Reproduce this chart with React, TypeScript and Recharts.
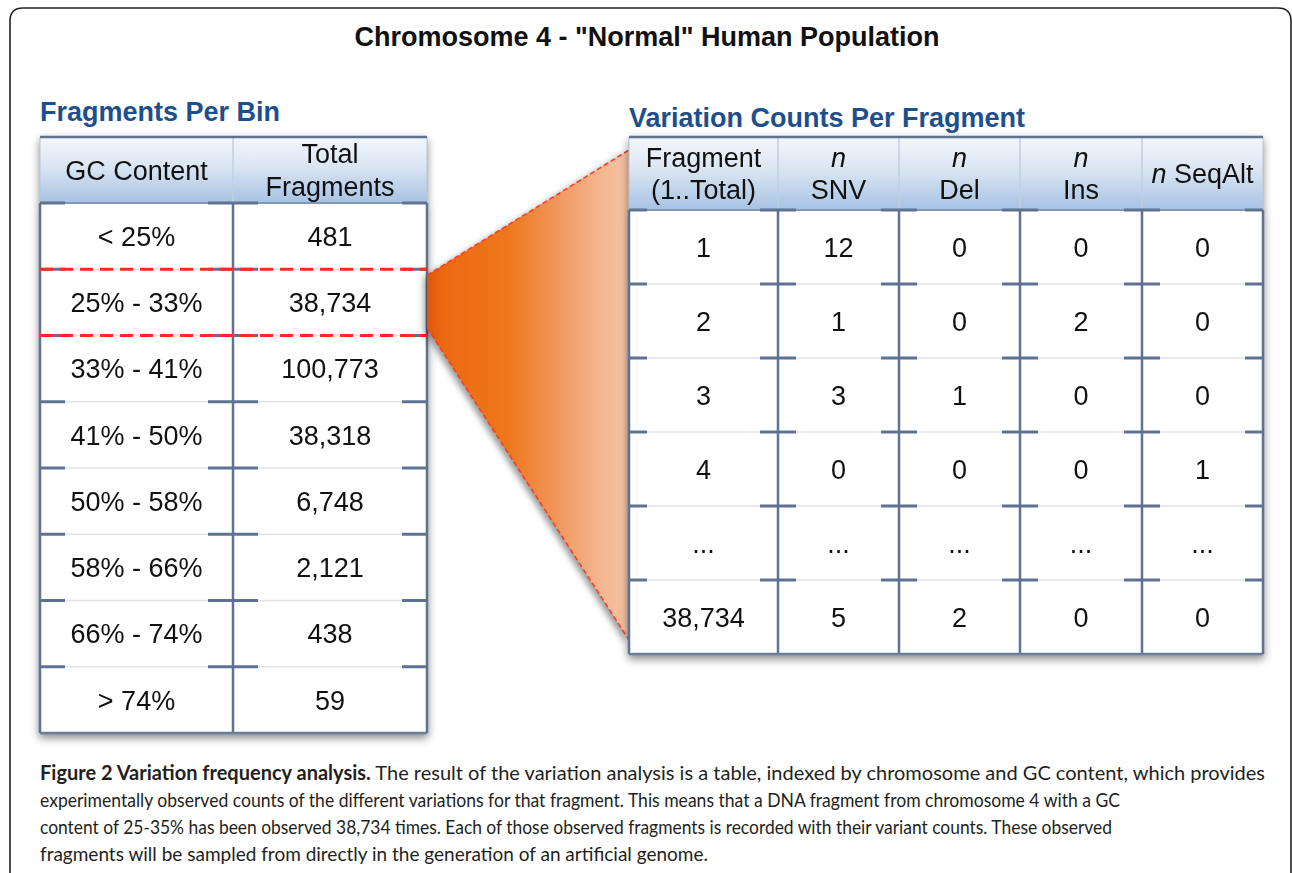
import { ComposedChart, Scatter, Area, Line, XAxis, YAxis, ReferenceArea, ReferenceLine } from 'recharts'

// Fragments per bin
const gcBins = ['< 25%', '25% - 33%', '33% - 41%', '41% - 50%', '50% - 58%', '58% - 66%', '66% - 74%', '> 74%']
const totalFragments = [481, 38734, 100773, 38318, 6748, 2121, 438, 59]
const highlightedBin = '25% - 33%'
const binHeaders = [['GC Content'], ['Total', 'Fragments']]

// Variation counts per fragment (null = "...")
const fragmentIds = [1, 2, 3, 4, null, 38734]
const snvCounts = [12, 1, 3, 0, null, 5]
const delCounts = [0, 0, 1, 0, null, 2]
const insCounts = [0, 2, 0, 0, null, 0]
const seqAltCounts = [0, 0, 0, 1, null, 0]
const fragmentHeaders = [['Fragment', '(1..Total)'], ['n', 'SNV'], ['n', 'Del'], ['n', 'Ins'], ['n SeqAlt']]

const FONT = '"Liberation Sans", Arial, Helvetica, sans-serif'
const CAPTION_FONT = 'Lato, "Open Sans", sans-serif'
const DARK = '#5e7393'
const PAD = 4

const LEFT = { left: 40, top: 137, colEdges: [0, 193, 387], headerH: 66, rowH: 66.25, tick: 25 }
const RIGHT = { left: 629, top: 137, colEdges: [0, 149, 270, 391, 513, 634], headerH: 73, rowH: 74, tick: 18 }

const fmt = (v: number | string | null) => (v == null ? '...' : typeof v === 'number' ? v.toLocaleString('en-US') : v)

function CellText(props: any) {
  const { cx, cy, payload } = props
  const lines: string[] = payload.lines
  const gap = 32.5
  return (
    <text textAnchor="middle" fontFamily={FONT} fontSize={27} fill="#111">
      {lines.map((line, i) => {
        const y = cy + (i - (lines.length - 1) / 2) * gap + 9.7
        const italic = line === 'n' || line.startsWith('n ')
        return (
          <tspan key={i} x={cx} y={y}>
            {italic ? (
              <>
                <tspan fontStyle="italic">n</tspan>
                {line.slice(1)}
              </>
            ) : (
              line
            )}
          </tspan>
        )
      })}
    </text>
  )
}

type TableProps = {
  id: string
  layout: typeof LEFT
  headers: string[][]
  columns: (number | string | null)[][]
  highlightRow?: number
}

function DataTable({ id, layout, headers, columns, highlightRow }: TableProps) {
  const { colEdges, headerH, rowH, tick } = layout
  const nRows = columns[0].length
  const W = colEdges[colEdges.length - 1]
  const H = headerH + nRows * rowH

  const cells = columns.flatMap((col, c) =>
    col.map((v, r) => ({
      x: (colEdges[c] + colEdges[c + 1]) / 2,
      y: headerH + (r + 0.5) * rowH,
      lines: [fmt(v)],
    })),
  )
  const headerCells = headers.map((lines, c) => ({
    x: (colEdges[c] + colEdges[c + 1]) / 2,
    y: headerH / 2,
    lines,
  }))
  const rowLines = Array.from({ length: nRows - 1 }, (_, i) => headerH + (i + 1) * rowH)

  const seg = (x1: number, y1: number, x2: number, y2: number) => [
    { x: x1, y: y1 },
    { x: x2, y: y2 },
  ]
  const ticks = (y: number, key: string) =>
    colEdges.map((e, i) => (
      <ReferenceLine
        key={`${key}-${i}`}
        segment={seg(Math.max(0, e - tick), y, Math.min(W, e + tick), y) as any}
        stroke={DARK}
        strokeWidth={3}
      />
    ))

  return (
    <div
      style={{
        position: 'absolute',
        left: layout.left - PAD,
        top: layout.top - PAD,
        filter: 'drop-shadow(0px 4px 4px rgba(0,0,0,0.45))',
      }}
    >
      <ComposedChart width={W + PAD * 2} height={H + PAD * 2} margin={{ top: PAD, right: PAD, bottom: PAD, left: PAD }}>
        <defs>
          <linearGradient id={`${id}-hdr`} x1="0" y1="0" x2="0" y2="1">
            <stop offset="0%" stopColor="#f4f7fb" />
            <stop offset="45%" stopColor="#dae5f2" />
            <stop offset="100%" stopColor="#a6c2e4" />
          </linearGradient>
        </defs>
        <XAxis type="number" dataKey="x" domain={[0, W]} hide allowDataOverflow />
        <YAxis type="number" dataKey="y" domain={[0, H]} reversed hide allowDataOverflow />
        <ReferenceArea x1={0} x2={W} y1={0} y2={headerH} fill={`url(#${id}-hdr)`} fillOpacity={1} stroke="none" />
        <ReferenceArea x1={0} x2={W} y1={headerH} y2={H} fill="#ffffff" fillOpacity={1} stroke="none" />
        {colEdges.slice(1, -1).map((e, i) => (
          <ReferenceLine key={`hd-${i}`} segment={seg(e, 0, e, headerH) as any} stroke="#c2cfe1" strokeWidth={1.5} />
        ))}
        <ReferenceLine segment={seg(0, 0, 0, headerH) as any} stroke="#b9c5d6" strokeWidth={1} />
        <ReferenceLine segment={seg(W, 0, W, headerH) as any} stroke="#b9c5d6" strokeWidth={1} />
        <ReferenceLine segment={seg(0, 0, W, 0) as any} stroke={DARK} strokeWidth={2.5} />
        {rowLines.map((y, i) => (
          <ReferenceLine key={`rl-${i}`} segment={seg(0, y, W, y) as any} stroke="#e3e3e3" strokeWidth={1.5} />
        ))}
        <ReferenceLine segment={seg(0, headerH, W, headerH) as any} stroke="#8398b5" strokeWidth={2} />
        {ticks(headerH, 'th')}
        {rowLines.map((y, i) => ticks(y, `t${i}`))}
        {colEdges.map((e, i) => (
          <ReferenceLine key={`v-${i}`} segment={seg(e, headerH, e, H) as any} stroke={DARK} strokeWidth={2.5} />
        ))}
        <ReferenceLine segment={seg(0, H, W, H) as any} stroke="#6b7e99" strokeWidth={2.5} />
        {highlightRow != null &&
          [highlightRow, highlightRow + 1].map((r) => (
            <ReferenceLine
              key={`hl-${r}`}
              segment={seg(0, headerH + r * rowH, W, headerH + r * rowH) as any}
              stroke="#ff2b1c"
              strokeWidth={3}
              strokeDasharray="13 7"
            />
          ))}
        <Scatter data={headerCells} shape={CellText} isAnimationActive={false} />
        <Scatter data={cells} shape={CellText} isAnimationActive={false} />
      </ComposedChart>
    </div>
  )
}

function Funnel() {
  const hl = gcBins.indexOf(highlightedBin)
  const x0 = LEFT.left + LEFT.colEdges[LEFT.colEdges.length - 1]
  const x1 = RIGHT.left
  const rowTop = LEFT.top + LEFT.headerH + hl * LEFT.rowH
  const rightH = RIGHT.headerH + fragmentIds.length * RIGHT.rowH
  const yMin = RIGHT.top
  const yMax = RIGHT.top + rightH
  const funnelData = [
    { x: x0, band: [rowTop + 6, rowTop + LEFT.rowH - 8] },
    { x: x1, band: [RIGHT.top + 13, RIGHT.top + rightH - 14] },
  ]
  return (
    <div
      style={{
        position: 'absolute',
        left: x0,
        top: yMin,
        filter: 'drop-shadow(-3px 3px 3px rgba(0,0,0,0.4))',
      }}
    >
      <ComposedChart width={x1 - x0} height={yMax - yMin} data={funnelData} margin={{ top: 0, right: 0, bottom: 0, left: 0 }}>
        <defs>
          <linearGradient id="funnelGrad" x1="0" y1="0" x2="1" y2="0">
            <stop offset="0%" stopColor="#e0570b" />
            <stop offset="8%" stopColor="#ec6912" />
            <stop offset="40%" stopColor="#ef771b" />
            <stop offset="62%" stopColor="#f19457" />
            <stop offset="85%" stopColor="#f4b58e" />
            <stop offset="100%" stopColor="#f6c3a4" />
          </linearGradient>
        </defs>
        <XAxis type="number" dataKey="x" domain={[x0, x1]} hide />
        <YAxis type="number" domain={[yMin, yMax]} reversed hide />
        <Area type="linear" dataKey="band" fill="url(#funnelGrad)" fillOpacity={1} stroke="none" isAnimationActive={false} />
        <Line type="linear" dataKey={(d: any) => d.band[0]} stroke="#ff3a1f" strokeWidth={1.5} strokeDasharray="5 3" dot={false} isAnimationActive={false} />
        <Line type="linear" dataKey={(d: any) => d.band[1]} stroke="#ff3a1f" strokeWidth={1.5} strokeDasharray="5 3" dot={false} isAnimationActive={false} />
      </ComposedChart>
    </div>
  )
}

const captionLines = [
  { bold: 'Figure 2 Variation frequency analysis.', text: ' The result of the variation analysis is a table, indexed by chromosome and GC content, which provides', width: 1225 },
  { bold: '', text: 'experimentally observed counts of the different variations for that fragment. This means that a DNA fragment from chromosome 4 with a GC', width: 1080 },
  { bold: '', text: 'content of 25-35% has been observed 38,734 times. Each of those observed fragments is recorded with their variant counts. These observed', width: 1072 },
  { bold: '', text: 'fragments will be sampled from directly in the generation of an artificial genome.', width: 668 },
]

export default function App() {
  return (
    <div style={{ position: 'absolute', left: 0, top: 0, width: 1292, height: 873, overflow: 'hidden', background: '#fff' }}>
      <svg width={1292} height={873} style={{ position: 'absolute', left: 0, top: 0 }}>
        <path d="M 10 880 L 10 21 Q 10 8 23 8 L 1278 8 Q 1291 8 1291 21 L 1291 880" fill="none" stroke="#222" strokeWidth={1.6} />
        <text x={647} y={45.5} textAnchor="middle" fontFamily={FONT} fontWeight="bold" fontSize={27} fill="#111">
          Chromosome 4 - "Normal" Human Population
        </text>
        <text x={40} y={121} fontFamily={FONT} fontWeight="bold" fontSize={27} fill="#1e4f8d">
          Fragments Per Bin
        </text>
        <text x={629} y={127} fontFamily={FONT} fontWeight="bold" fontSize={27} fill="#1e4f8d">
          Variation Counts Per Fragment
        </text>
        {captionLines.map((l, i) => (
          <text
            key={i}
            x={40}
            y={780 + i * 27}
            fontFamily={CAPTION_FONT}
            fontSize={20}
            fill="#231f20"
            textLength={l.width}
            lengthAdjust="spacingAndGlyphs"
          >
            {l.bold && <tspan fontWeight="bold">{l.bold}</tspan>}
            {l.text}
          </text>
        ))}
      </svg>
      <DataTable
        id="bins"
        layout={LEFT}
        headers={binHeaders}
        columns={[gcBins, totalFragments]}
        highlightRow={gcBins.indexOf(highlightedBin)}
      />
      <Funnel />
      <DataTable
        id="frags"
        layout={RIGHT}
        headers={fragmentHeaders}
        columns={[fragmentIds, snvCounts, delCounts, insCounts, seqAltCounts]}
      />
    </div>
  )
}
